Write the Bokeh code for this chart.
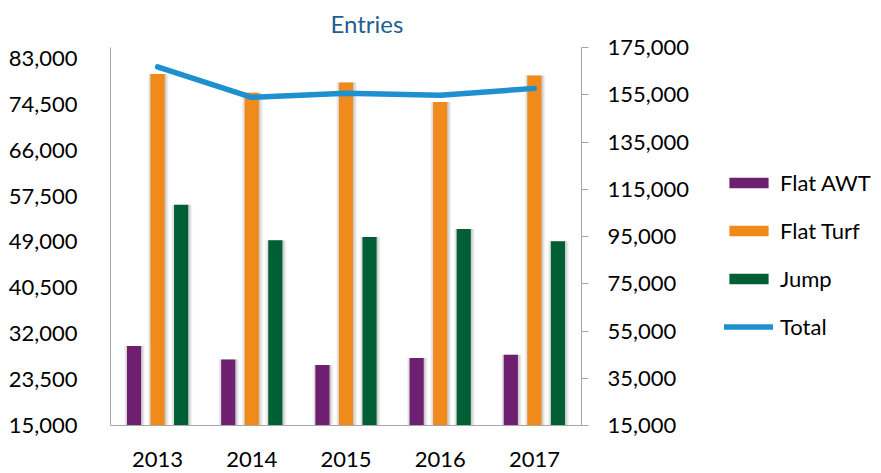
from bokeh.plotting import figure
from bokeh.layouts import row
from bokeh.models import (FactorRange, Range1d, LinearAxis, FixedTicker,
                          NumeralTickFormatter, Legend, LegendItem, ColumnDataSource)
from bokeh.transform import dodge
from bokeh.embed import file_html
from bokeh.resources import INLINE

years = ["2013", "2014", "2015", "2016", "2017"]
flat_awt = [29700, 27200, 26200, 27500, 28100]
flat_turf = [80100, 76600, 78500, 74900, 79800]
jump = [55900, 49300, 49900, 51400, 49100]
total = [166800, 153900, 155600, 154800, 157700]

left_ticks = [15000, 23500, 32000, 40500, 49000, 57500, 66000, 74500, 83000]
right_ticks = [15000, 35000, 55000, 75000, 95000, 115000, 135000, 155000, 175000]

src = ColumnDataSource(dict(years=years, flat_awt=flat_awt, flat_turf=flat_turf,
                            jump=jump, total=total))

FONT = "Lato"
GREY = "#a6a6a6"
LINE_COLOR = "#1E8FCF"

p = figure(x_range=FactorRange(*years), y_range=Range1d(15000, 85000),
           width=700, height=473, output_backend="svg", toolbar_location=None,
           min_border_left=110, min_border_right=119, min_border_top=47,
           min_border_bottom=48)
p.extra_y_ranges = {"right": Range1d(15000, 175000)}
p.outline_line_color = None
p.xgrid.visible = False
p.ygrid.visible = False

W = 0.15
series = [("flat_awt", -0.25, "#6E1F70", "Flat AWT"),
          ("flat_turf", 0.0, "#EF8A1B", "Flat Turf"),
          ("jump", 0.25, "#005F35", "Jump")]
for col, off, color, label in series:
    for extra, alpha in [(0.07, 0.05), (0.045, 0.07), (0.02, 0.08)]:
        p.vbar(x=dodge("years", off + 0.006, range=p.x_range), top=col, bottom=15000,
               width=W + extra, source=src, fill_color="#000000", fill_alpha=alpha,
               line_color=None)
    p.vbar(x=dodge("years", off, range=p.x_range), top=col, bottom=15000,
           width=W, source=src, fill_color=color, line_color=None)

p.line(x="years", y="total", source=src, y_range_name="right",
       line_color=LINE_COLOR, line_width=5.5, line_cap="round", line_join="round")

# left axis
ya = p.yaxis[0]
ya.ticker = FixedTicker(ticks=left_ticks)
ya.formatter = NumeralTickFormatter(format="0,0")
ya.axis_line_color = GREY
ya.major_tick_line_color = None
ya.minor_tick_line_color = None
ya.major_label_text_font = FONT
ya.major_label_text_font_size = "22px"
ya.major_label_text_color = "#000000"
ya.major_label_standoff = 27

# right axis
ra = LinearAxis(y_range_name="right", ticker=FixedTicker(ticks=right_ticks),
                formatter=NumeralTickFormatter(format="0,0"))
ra.axis_line_color = GREY
ra.major_tick_line_color = GREY
ra.major_tick_out = 7
ra.major_tick_in = 0
ra.minor_tick_line_color = None
ra.major_label_text_font = FONT
ra.major_label_text_font_size = "22px"
ra.major_label_text_color = "#000000"
ra.major_label_standoff = 19
p.add_layout(ra, "right")

# x axis
xa = p.xaxis[0]
xa.axis_line_color = GREY
xa.major_tick_line_color = None
xa.minor_tick_line_color = None
xa.major_label_text_font = FONT
xa.major_label_text_font_size = "22px"
xa.major_label_text_color = "#000000"
xa.major_label_standoff = 20

# title
p.title.text = "Entries"
p.title.align = "left"
p.title.vertical_align = "top"
p.title.offset = 220
p.title.standoff = 16
p.title.text_font = FONT
p.title.text_font_size = "24px"
p.title.text_font_style = "normal"
p.title.text_color = "#1F5F8F"

# legend panel (renderers hold one point that lies outside the view)
pl = figure(width=181, height=473, output_backend="svg", toolbar_location=None,
            min_border=0, x_axis_location=None, y_axis_location=None,
            x_range=Range1d(0, 1), y_range=Range1d(0, 1))
pl.outline_line_color = None
pl.xgrid.visible = False
pl.ygrid.visible = False
items = []
for col, off, color, label in series:
    r = pl.vbar(x=[10], top=[11], bottom=[10], width=0.1, fill_color=color,
                line_color=None)
    items.append(LegendItem(label=label, renderers=[r]))
lr = pl.line(x=[10, 11], y=[10, 10], line_color=LINE_COLOR, line_width=5.5,
             line_cap="round")
items.append(LegendItem(label="Total", renderers=[lr]))

legend = Legend(items=items, location=(24, 85), orientation="vertical",
                padding=0, margin=0, spacing=20, glyph_width=49, glyph_height=13,
                label_height=28, label_standoff=7, border_line_alpha=0,
                background_fill_alpha=0, label_text_font=FONT,
                label_text_font_size="22px", label_text_color="#000000")
pl.add_layout(legend, "center")

layout = row(p, pl, spacing=0)
open("out.html", "w").write(file_html(layout, INLINE))
